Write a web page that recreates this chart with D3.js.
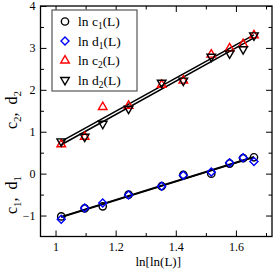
<!DOCTYPE html>
<html>
<head>
<meta charset="utf-8">
<script src="https://cdn.jsdelivr.net/npm/d3@7"></script>
<style>
  body { margin: 0; background: #fff; }
  svg { display: block; font-family: "Liberation Serif", "DejaVu Serif", serif; }
</style>
</head>
<body>
<svg id="chart" width="274" height="270"></svg>
<script>
// x values: ln[ln(L)]
const lnlnL = [1.019, 1.097, 1.157, 1.243, 1.353, 1.425, 1.518, 1.579, 1.624, 1.660];
// series
const lnC1 = [-1.02, -0.83, -0.78, -0.50, -0.30, -0.03, 0.00, 0.24, 0.37, 0.39];
const lnD1 = [-1.09, -0.82, -0.70, -0.51, -0.30, -0.04, 0.04, 0.26, 0.38, 0.29];
const lnC2 = [0.70, 0.88, 1.59, 1.62, 2.12, 2.22, 2.84, 2.99, 3.09, 3.30];
const lnD2 = [0.77, 0.88, 1.19, 1.55, 2.17, 2.22, 2.79, 2.87, 2.97, 3.30];
// fitted straight lines (end points)
const fitX = [1.019, 1.660];
const fitC1 = [-1.03, 0.40];
const fitD1 = [-1.04, 0.39];
const fitC2 = [0.77, 3.31];
const fitD2 = [0.69, 3.24];

const xMajor = [1, 1.2, 1.4, 1.6];
const xMinor = [1.1, 1.3, 1.5, 1.7];
const yMajor = [-1, 0, 1, 2, 3, 4];
const yMinor = [-0.5, 0.5, 1.5, 2.5, 3.5];

const pLeft = 40.5, pRight = 272, pTop = 6, pBottom = 236.5;

const svg = d3.select("#chart");

const x = d3.scaleLinear().domain([0.95, 1.72]).range([pLeft, pRight]);
const y = d3.scaleLinear().domain([-1.5, 4]).range([pBottom, pTop]);

// axes with ticks pointing inside, on all four sides
function styleAxis(g) {
  g.attr("font-family", null).attr("font-size", null);
  g.select(".domain").remove();
  g.selectAll("line").attr("stroke", "#000").attr("stroke-width", 1);
  g.selectAll("text").attr("fill", "#000").style("font-size", "12px")
    .style("font-family", "'Liberation Serif', serif");
}

svg.append("g").attr("transform", "translate(0," + pBottom + ")")
  .call(d3.axisBottom(x).tickValues(xMajor).tickFormat(d3.format("")).tickSizeInner(-6).tickSizeOuter(0).tickPadding(6))
  .call(styleAxis);
svg.append("g").attr("transform", "translate(0," + pBottom + ")")
  .call(d3.axisBottom(x).tickValues(xMinor).tickFormat("").tickSizeInner(-3.5).tickSizeOuter(0))
  .call(styleAxis);
svg.append("g").attr("transform", "translate(0," + pTop + ")")
  .call(d3.axisTop(x).tickValues(xMajor).tickFormat("").tickSizeInner(-6).tickSizeOuter(0))
  .call(styleAxis);
svg.append("g").attr("transform", "translate(0," + pTop + ")")
  .call(d3.axisTop(x).tickValues(xMinor).tickFormat("").tickSizeInner(-3.5).tickSizeOuter(0))
  .call(styleAxis);

svg.append("g").attr("transform", "translate(" + pLeft + ",0)")
  .call(d3.axisLeft(y).tickValues(yMajor).tickFormat(d3.format("")).tickSizeInner(-6).tickSizeOuter(0).tickPadding(5))
  .call(styleAxis);
svg.append("g").attr("transform", "translate(" + pLeft + ",0)")
  .call(d3.axisLeft(y).tickValues(yMinor).tickFormat("").tickSizeInner(-3.5).tickSizeOuter(0))
  .call(styleAxis);
svg.append("g").attr("transform", "translate(" + pRight + ",0)")
  .call(d3.axisRight(y).tickValues(yMajor).tickFormat("").tickSizeInner(-6).tickSizeOuter(0))
  .call(styleAxis);
svg.append("g").attr("transform", "translate(" + pRight + ",0)")
  .call(d3.axisRight(y).tickValues(yMinor).tickFormat("").tickSizeInner(-3.5).tickSizeOuter(0))
  .call(styleAxis);

// frame
svg.append("rect")
  .attr("x", pLeft).attr("y", pTop)
  .attr("width", pRight - pLeft).attr("height", pBottom - pTop)
  .attr("fill", "none").attr("stroke", "#000").attr("stroke-width", 1.3);

// fit lines
const line = d3.line().x(d => x(d[0])).y(d => y(d[1]));
[fitC1, fitD1, fitC2, fitD2].forEach(f => {
  svg.append("path")
    .datum(fitX.map((v, i) => [v, f[i]]))
    .attr("d", line)
    .attr("fill", "none")
    .attr("stroke", "#000")
    .attr("stroke-width", 1.6);
});

// markers
const shapes = {
  circle: { type: d3.symbolCircle, size: 42, rot: 0 },
  diamond: { type: d3.symbolSquare, size: 32, rot: 45 },
  up: { type: d3.symbolTriangle, size: 32, rot: 0 },
  down: { type: d3.symbolTriangle, size: 32, rot: 180 }
};

const series = [
  { name: "c", sub: "1", vals: lnC1, color: "#000", shape: "circle" },
  { name: "d", sub: "1", vals: lnD1, color: "#0000ff", shape: "diamond" },
  { name: "c", sub: "2", vals: lnC2, color: "#ff0000", shape: "up" },
  { name: "d", sub: "2", vals: lnD2, color: "#000", shape: "down" }
];

function marker(g, s, px, py) {
  const sh = shapes[s.shape];
  g.append("path")
    .attr("d", d3.symbol().type(sh.type).size(sh.size)())
    .attr("transform", "translate(" + px + "," + py + ") rotate(" + sh.rot + ")")
    .attr("fill", "none")
    .attr("stroke", s.color)
    .attr("stroke-width", 1.4);
}

series.forEach(s => {
  const g = svg.append("g");
  s.vals.forEach((v, i) => marker(g, s, x(lnlnL[i]), y(v)));
});

// legend
const lg = svg.append("g");
lg.append("rect")
  .attr("x", 52).attr("y", 10).attr("width", 85).attr("height", 81)
  .attr("fill", "#fff").attr("stroke", "#555").attr("stroke-width", 1.2);
series.forEach((s, i) => {
  const ry = 21.5 + i * 19.5;
  marker(lg, s, 65, ry);
  const t = lg.append("text")
    .attr("x", 78).attr("y", ry + 4.5)
    .style("font-size", "13.5px");
  t.append("tspan").text("ln " + s.name);
  t.append("tspan").attr("dy", 3).style("font-size", "9.5px").text(s.sub);
  t.append("tspan").attr("dy", -3).text("(L)");
});

// axis titles
svg.append("text")
  .attr("x", (pLeft + pRight) / 2 + 2).attr("y", 266)
  .attr("text-anchor", "middle")
  .style("font-size", "13px")
  .text("ln[ln(L)]");

function yTitle(cy, sub) {
  const t = svg.append("text")
    .attr("transform", "translate(17," + cy + ") rotate(-90)")
    .attr("text-anchor", "middle")
    .style("font-size", "16px");
  t.append("tspan").text("c");
  t.append("tspan").attr("dy", 4).style("font-size", "11px").text(sub);
  t.append("tspan").attr("dy", -4).text(",\u00a0\u00a0d");
  t.append("tspan").attr("dy", 4).style("font-size", "11px").text(sub);
}
yTitle(110, "2");
yTitle(195, "1");
</script>
</body>
</html>
